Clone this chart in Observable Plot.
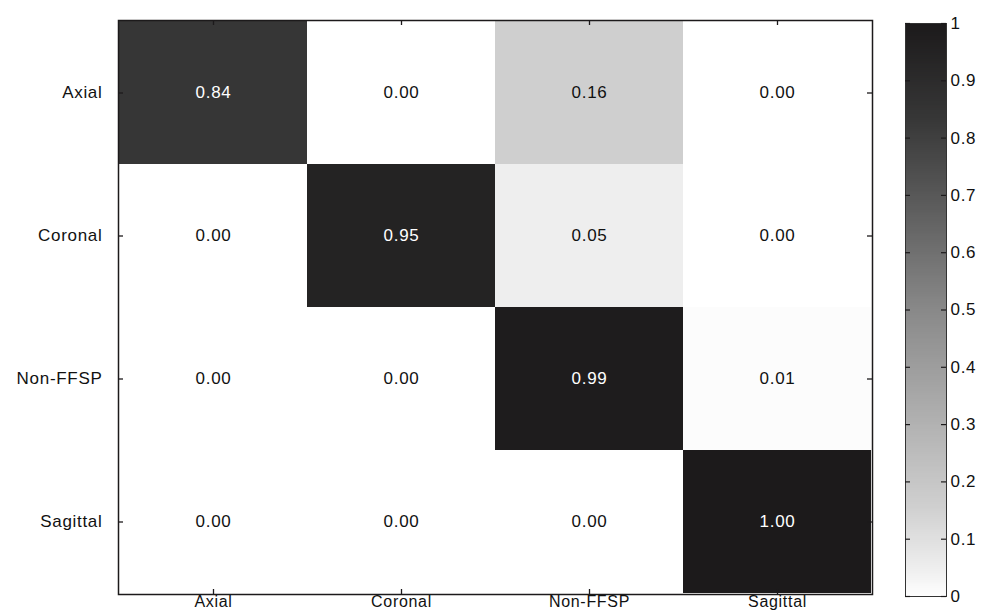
<!DOCTYPE html>
<html>
<head>
<meta charset="utf-8">
<script src="https://cdn.jsdelivr.net/npm/d3@7"></script>
<script src="https://cdn.jsdelivr.net/npm/@observablehq/plot@0.6"></script>
<style>
  html, body { margin: 0; padding: 0; background: #fff; }
  #wrap { position: relative; width: 990px; height: 612px; overflow: hidden; }
  #wrap svg { position: absolute; top: 0; }
</style>
</head>
<body>
<div id="wrap"></div>
<script>
// Categories (rows = actual class, columns = predicted class)
const categories = ["Axial", "Coronal", "Non-FFSP", "Sagittal"];
const rowAxial    = [0.84, 0.00, 0.16, 0.00];
const rowCoronal  = [0.00, 0.95, 0.05, 0.00];
const rowNonFFSP  = [0.00, 0.00, 0.99, 0.01];
const rowSagittal = [0.00, 0.00, 0.00, 1.00];
const colorbarTicks = [0, 0.1, 0.2, 0.3, 0.4, 0.5, 0.6, 0.7, 0.8, 0.9, 1];

const rows = [rowAxial, rowCoronal, rowNonFFSP, rowSagittal];
const cells = [];
rows.forEach((r, i) => r.forEach((v, j) => cells.push({actual: categories[i], predicted: categories[j], value: v})));

// grayscale colormap (white -> near black), stops matched to the reference's tones
const colorScale = {
  type: "linear",
  domain: [0, 0.05, 0.16, 0.5, 0.84, 1],
  range: ["#ffffff", "#eeeeee", "#cfcfcf", "#898989", "#363636", "#1c1a1b"],
  clamp: true
};
const font = {fontFamily: "'Liberation Sans', Arial, sans-serif", fontSize: "17px", letterSpacing: "0.7px", background: "transparent"};
const ink = "#1c1a1b";

const W = 990, H = 612, mL = 118, mR = 118, mT = 20, mB = 18;
const pw = W - mL - mR, ph = H - mT - mB;
const tk = 5;

const main = Plot.plot({
  width: W, height: H,
  marginLeft: mL, marginRight: mR, marginTop: mT, marginBottom: mB,
  style: font,
  x: {domain: categories, type: "band", padding: 0, label: null},
  y: {domain: categories, type: "band", padding: 0, label: null},
  color: colorScale,
  marks: [
    Plot.cell(cells, {x: "predicted", y: "actual", fill: "value", inset: 0}),
    Plot.text(cells.filter(d => d.value >= 0.5), {x: "predicted", y: "actual", text: d => d.value.toFixed(2), fill: "white", fontSize: 17}),
    Plot.text(cells.filter(d => d.value < 0.5), {x: "predicted", y: "actual", text: d => d.value.toFixed(2), fill: "#111", fontSize: 17}),
    Plot.frame({stroke: ink, strokeWidth: 1.5}),
    Plot.tickY(categories, {y: d => d, insetRight: pw - tk, stroke: ink, strokeWidth: 1.3}),
    Plot.tickY(categories, {y: d => d, insetLeft: pw - tk, stroke: ink, strokeWidth: 1.3}),
    Plot.tickX(categories, {x: d => d, insetTop: ph - tk, stroke: ink, strokeWidth: 1.3}),
    Plot.tickX(categories, {x: d => d, insetBottom: ph - tk, stroke: ink, strokeWidth: 1.3}),
    Plot.axisX({anchor: "bottom", tickSize: 0, tickPadding: 1, label: null, fill: "#111", fontSize: 16}),
    Plot.axisY({anchor: "left", tickSize: 0, tickPadding: 16, label: null, fill: "#111"})
  ]
});
main.style.left = "0px";

const cbLeft = 860, cbW = 130, barL = 905, barR = 946, barT = 23, barB = 596;
const bw = barR - barL;
const bar = Plot.plot({
  width: cbW, height: H,
  marginLeft: barL - cbLeft, marginRight: cbLeft + cbW - barR, marginTop: barT, marginBottom: H - barB,
  style: font,
  x: {domain: [0, 1], axis: null},
  y: {domain: [0, 1], label: null},
  color: colorScale,
  marks: [
    Plot.raster({x1: 0, x2: 1, y1: 0, y2: 1, width: 1, height: 300, fill: (x, y) => y, imageRendering: "auto"}),
    Plot.frame({stroke: "#333", strokeWidth: 1}),
    Plot.tickY(colorbarTicks, {y: d => d, insetRight: bw - tk, stroke: ink, strokeWidth: 1.2}),
    Plot.tickY(colorbarTicks, {y: d => d, insetLeft: bw - tk, stroke: ink, strokeWidth: 1.2}),
    Plot.axisY({anchor: "right", ticks: colorbarTicks, tickSize: 0, tickPadding: 4, tickFormat: d => String(d), label: null, fill: "#111"})
  ]
});
bar.style.left = cbLeft + "px";

const wrap = document.getElementById("wrap");
wrap.appendChild(main);
wrap.appendChild(bar);
</script>
</body>
</html>
